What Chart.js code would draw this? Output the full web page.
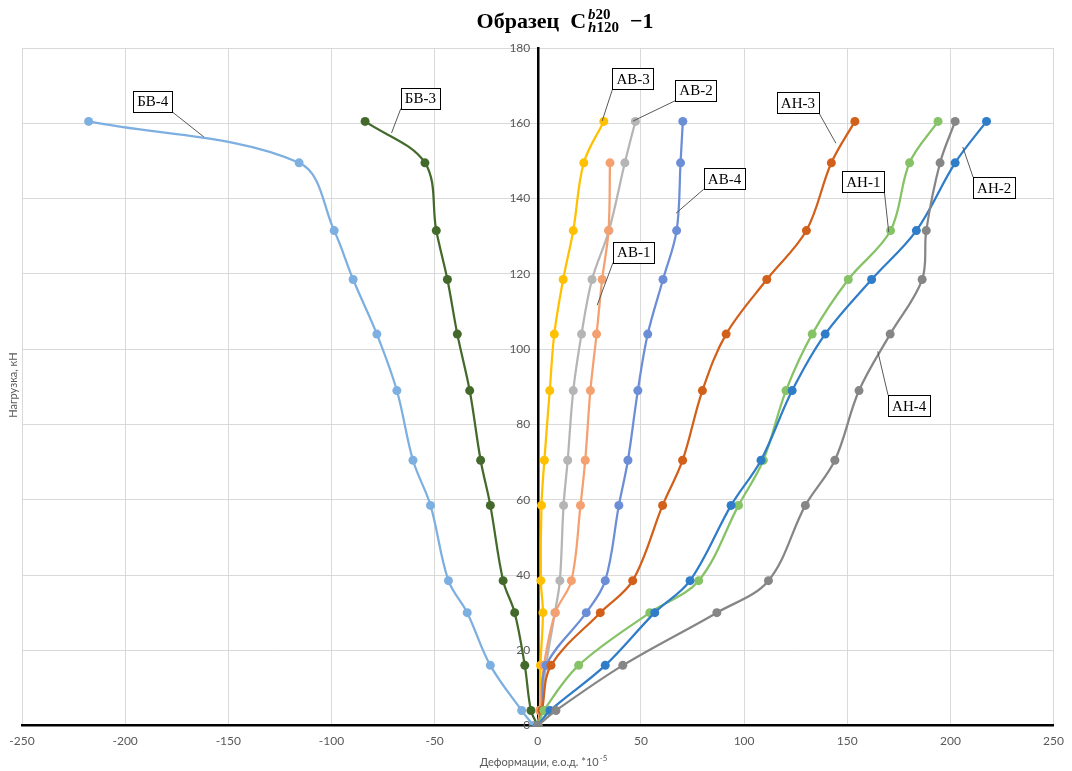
<!DOCTYPE html>
<html>
<head>
<meta charset="utf-8">
<script src="https://cdn.jsdelivr.net/npm/chart.js@4/dist/chart.umd.min.js"></script>
<style>
  html, body { margin: 0; padding: 0; background: #fff; }
  #wrap { width: 1072px; height: 771px; position: relative; }
</style>
</head>
<body>
<div id="wrap"><canvas id="myChart"></canvas></div>
<script>
// Нагрузка, кН (общая для всех серий)
const loads = [0, 4, 16, 30, 38.5, 58.5, 70.5, 89, 104, 118.5, 131.5, 149.5, 160.5];

// Деформации по сериям, е.о.д. *10^-5
const bv4 = [-2, -7.8, -23, -34.2, -43.3, -52, -60.5, -68.3, -78, -89.5, -98.7, -115.7, -217.7];
const bv3 = [0, -3.3, -6.3, -11.2, -16.8, -23, -27.7, -33, -39, -43.8, -49.2, -54.7, -83.7];
const av3 = [0, 1, 1.3, 2.5, 1.5, 1.8, 3.2, 5.8, 8, 12.3, 17.2, 22.3, 32];
const av2 = [0, 1.5, 4, 8.3, 10.7, 12.5, 14.5, 17.2, 21.2, 26.3, 34.5, 42.2, 47.3];
const av1 = [0, 1, 3, 8.5, 16.3, 20.7, 23, 25.5, 28.5, 31.2, 34.3, 35, null];
const av4 = [0, 2, 4, 23.5, 32.7, 39.3, 43.7, 48.5, 53.3, 60.7, 67.3, 69.2, 70.3];
const an3 = [0, 2, 6.4, 30.3, 46, 60.5, 70.2, 79.8, 91.3, 111, 130.2, 142.3, 153.7];
const an1 = [0, 3, 19.8, 54.3, 78, 97.3, 109.3, 120.3, 133, 150.5, 171, 180.2, 194];
const an2 = [0, 5.9, 32.7, 56.7, 73.8, 93.7, 108.2, 123.3, 139.3, 161.8, 183.5, 202.3, 217.5];
const an4 = [0, 8.8, 41.2, 86.8, 111.8, 129.7, 144, 155.7, 170.8, 186.3, 188.3, 195, 202.3];

const seriesNames = ['БВ-4', 'БВ-3', 'АВ-3', 'АВ-2', 'АВ-1', 'АВ-4', 'АН-3', 'АН-1', 'АН-2', 'АН-4'];
const seriesValues = [bv4, bv3, av3, av2, av1, av4, an3, an1, an2, an4];
const seriesColors = ['#7DB0E0', '#436A2B', '#FFC000', '#B5B5B5', '#F4A070', '#6C8ED6', '#D2601A', '#86C266', '#2F7DC8', '#868686'];

// Подписи серий: центр рамки и точка выноски (в координатах данных)
const calloutText = ['БВ-4', 'БВ-3', 'АВ-3', 'АВ-2', 'АВ-4', 'АВ-1', 'АН-3', 'АН-1', 'АН-2', 'АН-4'];
const calloutBox = [[-186.6, 165.8], [-56.9, 166.7], [46.2, 171.8], [76.7, 168.8], [90.5, 145.3], [46.5, 125.8], [126.1, 165.5], [157.8, 144.5], [221.2, 142.9], [180, 85]];
const calloutAnchor = [[-161.9, 156.4], [-70.9, 157.4], [31.2, 160.6], [46.2, 160.6], [67, 136.1], [28.8, 111.7], [144.5, 154.7], [170.1, 131.1], [206, 153.7], [164.8, 99.4]];

const xTicks = [-250, -200, -150, -100, -50, 0, 50, 100, 150, 200, 250];
const yTicks = [0, 20, 40, 60, 80, 100, 120, 140, 160, 180];

const axisFont = 'Lato, "Liberation Sans", sans-serif';
const gray = '#595959';

const datasets = seriesNames.map((name, i) => ({
    label: name,
    data: loads.map((y, k) => ({ x: seriesValues[i][k], y })).filter(p => p.x !== null),
    borderColor: seriesColors[i],
    backgroundColor: seriesColors[i],
    borderWidth: 2.25,
    pointRadius: 4.5,
    pointBorderWidth: 0,
    tension: 0.35,
    order: seriesNames.length - i
}));

// Заголовок, подписи осей и выноски
const decorations = {
    id: 'decorations',
    afterDatasetsDraw(chart) {
        const ctx = chart.ctx;
        const xs = chart.scales.x, ys = chart.scales.y;
        ctx.save();
        // выноски
        calloutText.forEach((t, i) => {
            const bx = xs.getPixelForValue(calloutBox[i][0]);
            const by = ys.getPixelForValue(calloutBox[i][1]);
            const ax = xs.getPixelForValue(calloutAnchor[i][0]);
            const ay = ys.getPixelForValue(calloutAnchor[i][1]);
            ctx.font = '15px "Liberation Serif", serif';
            const w = ctx.measureText(t).width + 8, h = 21;
            const ex = ax < bx - w / 2 ? bx - w / 2 : (ax > bx + w / 2 ? bx + w / 2 : ax);
            const ey = ay < by - h / 2 ? by - h / 2 : (ay > by + h / 2 ? by + h / 2 : ay);
            ctx.strokeStyle = '#595959';
            ctx.lineWidth = 1;
            ctx.beginPath();
            ctx.moveTo(ex, ey);
            ctx.lineTo(ax, ay);
            ctx.stroke();
            ctx.fillStyle = '#fff';
            ctx.fillRect(bx - w / 2, by - h / 2, w, h);
            ctx.strokeStyle = '#000';
            ctx.strokeRect(Math.round(bx - w / 2) + 0.5, Math.round(by - h / 2) + 0.5, Math.round(w), h);
            ctx.fillStyle = '#000';
            ctx.textAlign = 'center';
            ctx.textBaseline = 'middle';
            ctx.fillText(t, bx, by + 1);
        });

        // заголовок
        ctx.textAlign = 'left';
        ctx.textBaseline = 'alphabetic';
        ctx.fillStyle = '#000';
        const big = 'bold 22px "Liberation Serif", serif';
        const small = 'bold italic 15px "Liberation Serif", serif';
        const smallUp = 'bold 15px "Liberation Serif", serif';
        ctx.font = big;
        const w1 = ctx.measureText('Образец  ').width;
        const w2 = ctx.measureText('C').width;
        ctx.font = smallUp;
        const wSup = ctx.measureText('b20').width;
        const wSub = ctx.measureText('h120').width;
        ctx.font = big;
        const w3 = ctx.measureText('  −1').width;
        const total = w1 + w2 + 2 + Math.max(wSup, wSub) + w3;
        let x = 565 - total / 2;
        ctx.fillText('Образец  ', x, 28); x += w1;
        ctx.fillText('C', x, 28); x += w2 + 2;
        ctx.font = small;
        ctx.fillText('b', x, 19);
        ctx.fillText('h', x, 32);
        const wb = ctx.measureText('b').width, wh = ctx.measureText('h').width;
        ctx.font = smallUp;
        ctx.fillText('20', x + wb, 19);
        ctx.fillText('120', x + wh, 32);
        x += Math.max(wSup, wSub);
        ctx.font = big;
        ctx.fillText('  −1', x, 28);

        // подпись оси X
        ctx.fillStyle = gray;
        ctx.font = '11px ' + axisFont;
        const xt = 'Деформации, е.о.д. *10';
        const wx = ctx.measureText(xt).width;
        ctx.font = '8px ' + axisFont;
        const wsup = ctx.measureText('-5').width;
        let sx = 543 - (wx + wsup) / 2;
        ctx.font = '11px ' + axisFont;
        ctx.fillText(xt, sx, 766);
        ctx.font = '8px ' + axisFont;
        ctx.fillText('-5', sx + wx + 1, 761);

        // подпись оси Y
        ctx.font = '11px ' + axisFont;
        ctx.translate(17, 385);
        ctx.rotate(-Math.PI / 2);
        ctx.textAlign = 'center';
        ctx.fillText('Нагрузка, кН', 0, 0);
        ctx.restore();
    }
};

const myChart = document.getElementById('myChart');
new Chart(myChart, {
    type: 'line',
    data: { datasets },
    options: {
        responsive: true,
        maintainAspectRatio: false,
        animation: false,
        layout: { padding: { left: 22, right: 15, top: 48, bottom: 15 } },
        plugins: { legend: { display: false }, tooltip: { enabled: false }, title: { display: false } },
        scales: {
            x: {
                type: 'linear',
                position: 'bottom',
                min: xTicks[0],
                max: xTicks[xTicks.length - 1],
                afterBuildTicks: (s) => { s.ticks = xTicks.map(v => ({ value: v })); },
                grid: { color: '#D9D9D9', lineWidth: 1, drawTicks: false },
                border: { color: '#000', width: 2.5 },
                ticks: { color: gray, font: { family: axisFont, size: 12 }, padding: 8, maxRotation: 0 }
            },
            y: {
                type: 'linear',
                position: { x: 0 },
                min: yTicks[0],
                max: yTicks[yTicks.length - 1],
                afterBuildTicks: (s) => { s.ticks = yTicks.map(v => ({ value: v })); },
                grid: { color: '#D9D9D9', lineWidth: 1, drawTicks: false },
                border: { color: '#000', width: 2.5 },
                ticks: { color: gray, font: { family: axisFont, size: 12 }, callback: (v) => v + '\u2002\u2009' }
            }
        }
    },
    plugins: [decorations]
});
</script>
</body>
</html>
